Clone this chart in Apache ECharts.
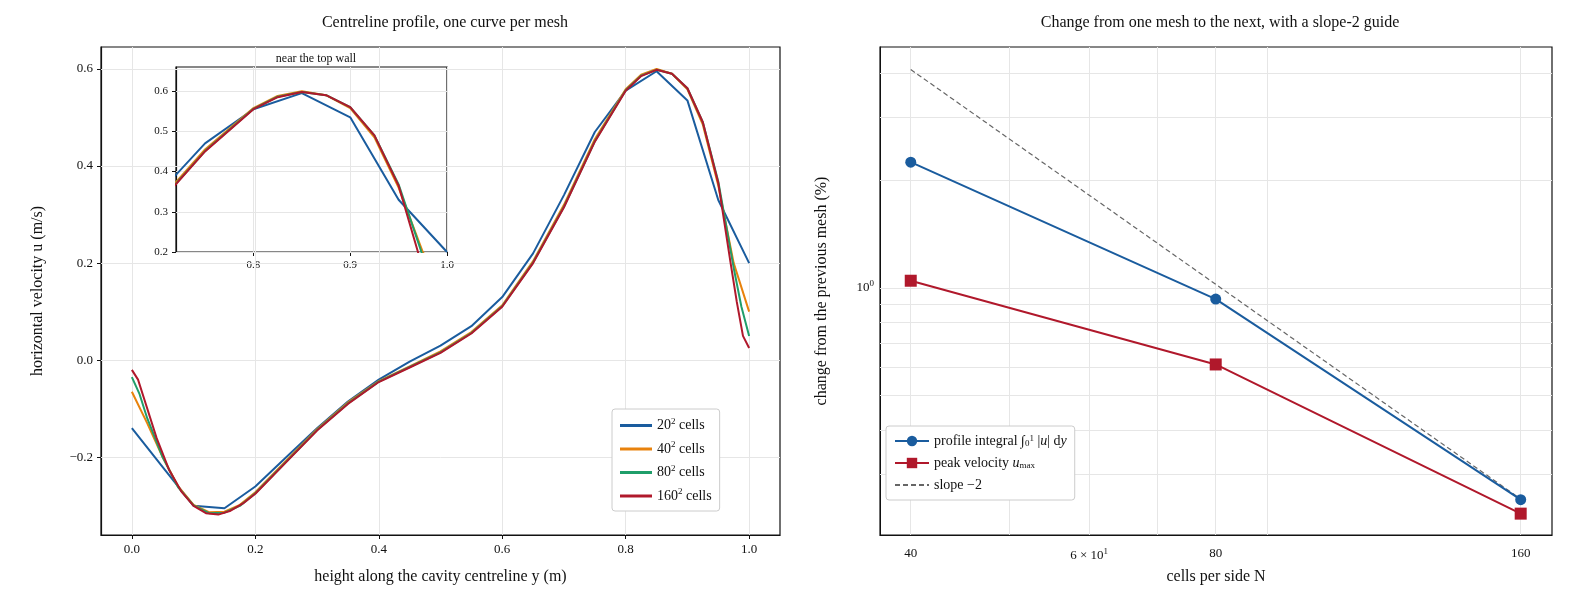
<!DOCTYPE html><html><head><meta charset="utf-8">
<script src="https://cdn.jsdelivr.net/npm/echarts@6/dist/echarts.min.js"></script>
<style>html,body{margin:0;background:#fff}#c{width:1574px;height:615px}</style></head><body><div id="c"></div>
<script>
const y20 = [0,0.05,0.1,0.15,0.2,0.25,0.3,0.35,0.4,0.45,0.5,0.55,0.6,0.65,0.7,0.75,0.8,0.85,0.9,0.95,1.0];
const u20 = [-0.14,-0.22,-0.30,-0.305,-0.26,-0.2,-0.14,-0.085,-0.04,-0.003,0.03,0.07,0.13,0.22,0.34,0.47,0.555,0.595,0.535,0.33,0.2];
const y40 = [0,0.025,0.05,0.075,0.1,0.125,0.15,0.175,0.2,0.25,0.3,0.35,0.4,0.45,0.5,0.55,0.6,0.65,0.7,0.75,0.8,0.825,0.85,0.875,0.9,0.925,0.95,0.975,1.0];
const u40 = [-0.065,-0.13,-0.2,-0.26,-0.298,-0.313,-0.312,-0.298,-0.272,-0.207,-0.142,-0.087,-0.043,-0.013,0.018,0.058,0.113,0.204,0.32,0.455,0.558,0.588,0.6,0.59,0.558,0.485,0.36,0.2,0.1];
const y80 = [0,0.0125,0.025,0.05,0.075,0.1,0.125,0.15,0.175,0.2,0.25,0.3,0.35,0.4,0.45,0.5,0.55,0.6,0.65,0.7,0.75,0.8,0.825,0.85,0.875,0.9,0.925,0.95,0.975,0.9875,1.0];
const u80 = [-0.035,-0.07,-0.12,-0.2,-0.262,-0.299,-0.315,-0.314,-0.3,-0.274,-0.209,-0.144,-0.089,-0.044,-0.014,0.016,0.056,0.111,0.201,0.316,0.451,0.556,0.586,0.598,0.59,0.56,0.49,0.368,0.19,0.11,0.05];
const y160 = [0,0.01,0.02,0.04,0.06,0.08,0.1,0.12,0.14,0.16,0.18,0.2,0.25,0.3,0.35,0.4,0.45,0.5,0.55,0.6,0.65,0.7,0.75,0.8,0.825,0.85,0.875,0.9,0.925,0.95,0.97,0.98,0.99,1.0];
const u160 = [-0.02,-0.04,-0.08,-0.16,-0.225,-0.27,-0.3,-0.315,-0.318,-0.31,-0.295,-0.275,-0.21,-0.145,-0.09,-0.045,-0.015,0.015,0.055,0.11,0.2,0.315,0.45,0.555,0.585,0.598,0.59,0.56,0.49,0.365,0.2,0.12,0.05,0.025];
const N = [40,80,160];
const profileChange = [2.25,0.93,0.255];
const peakChange = [1.047,0.61,0.233];
const slopeRef = [4.09,0.256];
const meshNames = ['20','40','80','160'];
const xTicksMain = [0,0.2,0.4,0.6,0.8,1.0];
const yTicksMain = [-0.2,0,0.2,0.4,0.6];
const xTicksInset = [0.8,0.9,1.0];
const yTicksInset = [0.2,0.3,0.4,0.5,0.6];
const xMinor = [40,50,60,70,80,90,160];
const yMinor = [0.3,0.4,0.5,0.6,0.7,0.8,0.9,1,2,3,4];
const xLabels = {40:'40',60:'{n|6 × 10}{s|1}',80:'80',160:'160'};

const F = 'Liberation Serif';
const C = ['#1a5c9e','#e8820c','#1f9e6a','#b0182b'];
const zip=(a,b)=>a.map((v,i)=>[v,b[i]]);
const fmt=v=>(v<0?'−':'')+Math.abs(v).toFixed(1);
const profiles=[[y20,u20],[y40,u40],[y80,u80],[y160,u160]];
const chart = echarts.init(document.getElementById('c'));
const grids=[{left:101,top:47,width:679,height:488},{left:176,top:67,width:271,height:185},{left:880,top:47,width:672,height:488}];
const GL={lineStyle:{color:'#e6e6e6'}};
const valAx=(g,min,max,ticks,fs,extra)=>Object.assign({gridIndex:g,type:'value',min,max,
  axisLine:{onZero:false,lineStyle:{color:'#111',width:1.2}},
  axisTick:{length:4,customValues:ticks,lineStyle:{color:'#111'}},
  axisLabel:{fontFamily:F,fontSize:fs,color:'#111',customValues:ticks,formatter:fmt},
  splitLine:{show:false}},extra||{});
const series=[];
// gridlines via markLine on the main/inset axes (data values)
const gridML=(xs,ys)=>({silent:true,symbol:'none',animation:false,label:{show:false},lineStyle:{type:'solid',color:'#e6e6e6',width:1},
  data:[...xs.map(v=>({xAxis:v})),...ys.map(v=>({yAxis:v}))]});
profiles.forEach((p,i)=>{
  const s={type:'line',name:meshNames[i],xAxisIndex:0,yAxisIndex:0,data:zip(p[0],p[1]),showSymbol:false,lineStyle:{width:2,color:C[i]},itemStyle:{color:C[i]},z:3+i};
  if(i===0) s.markLine=Object.assign(gridML(xTicksMain,yTicksMain),{z:1});
  series.push(s);
  const t={type:'line',name:'in'+i,xAxisIndex:1,yAxisIndex:1,data:zip(p[0],p[1]),showSymbol:false,clip:true,lineStyle:{width:2,color:C[i]},z:13+i};
  if(i===0) t.markLine=Object.assign(gridML(xTicksInset,yTicksInset),{z:11});
  series.push(t);
});
const rich={n:{fontFamily:F,fontSize:13,color:'#111'},s:{fontFamily:F,fontSize:9,color:'#111',verticalAlign:'top',padding:[0,0,8,0]}};
series.push({type:'line',name:'profile',xAxisIndex:2,yAxisIndex:2,data:zip(N,profileChange),symbol:'circle',symbolSize:11,lineStyle:{width:2,color:C[0]},itemStyle:{color:C[0]},z:5,
  markLine:{silent:true,symbol:'none',animation:false,z:1,data:xMinor.map(v=>({xAxis:v,label:{show:!!xLabels[v],position:'start',distance:12,formatter:xLabels[v]||'',fontFamily:F,fontSize:13,color:'#111',rich}})),lineStyle:{type:'solid',color:'#e6e6e6',width:1}}});
series.push({type:'line',name:'peak',xAxisIndex:2,yAxisIndex:2,data:zip(N,peakChange),symbol:'rect',symbolSize:12,lineStyle:{width:2,color:C[3]},itemStyle:{color:C[3]},z:5,
  markLine:{silent:true,symbol:'none',animation:false,z:1,data:yMinor.map(v=>({yAxis:v,label:{show:v===1,position:'start',distance:6,formatter:'{n|10}{s|0}',rich}})),lineStyle:{type:'solid',color:'#e6e6e6',width:1}}});
series.push({type:'line',name:'slope',xAxisIndex:2,yAxisIndex:2,data:zip([40,160],slopeRef),showSymbol:false,symbol:'none',lineStyle:{width:1.2,type:[5,3],color:'#666'},itemStyle:{color:'#666'},z:4});

chart.setOption({
  animation:false,
  title:[{text:'Centreline profile, one curve per mesh',left:440,top:10,textAlign:'center',textStyle:{fontFamily:F,fontSize:16,fontWeight:'normal',color:'#111'}},
         {text:'Change from one mesh to the next, with a slope-2 guide',left:1215,top:10,textAlign:'center',textStyle:{fontFamily:F,fontSize:16,fontWeight:'normal',color:'#111'}},
         {text:'near the top wall',left:311,top:48,textAlign:'center',textStyle:{fontFamily:F,fontSize:12,fontWeight:'normal',color:'#111'}}],
  grid:grids.map(g=>Object.assign({show:true,borderColor:'#111',borderWidth:1.2,backgroundColor:'#fff'},g)),
  xAxis:[valAx(0,-0.05,1.05,xTicksMain,13,{name:'height along the cavity centreline y (m)',nameLocation:'middle',nameGap:34,nameTextStyle:{fontFamily:F,fontSize:16,color:'#111'}}),
    valAx(1,0.72,1.0,xTicksInset,11),
    {gridIndex:2,type:'log',logBase:10,min:37.3,max:171.8,name:'cells per side N',nameLocation:'middle',nameGap:34,nameTextStyle:{fontFamily:F,fontSize:16,color:'#111'},axisLine:{lineStyle:{color:'#111'}},axisLabel:{show:false},axisTick:{show:false},splitLine:{show:false}}],
  yAxis:[valAx(0,-0.36,0.645,yTicksMain,13,{name:'horizontal velocity u (m/s)',nameLocation:'middle',nameGap:55,nameTextStyle:{fontFamily:F,fontSize:16,color:'#111'}}),
    valAx(1,0.2,0.66,yTicksInset,11),
    {gridIndex:2,type:'log',logBase:10,min:0.203,max:4.73,name:'change from the previous mesh (%)',nameLocation:'middle',nameGap:50,nameTextStyle:{fontFamily:F,fontSize:16,color:'#111'},axisLine:{lineStyle:{color:'#111'}},axisLabel:{show:false},axisTick:{show:false},splitLine:{show:false}}],
  legend:[{data:meshNames,orient:'vertical',left:612,top:409,itemGap:8,itemWidth:32,itemHeight:3,icon:'rect',backgroundColor:'#fff',borderColor:'#ccc',borderWidth:1,borderRadius:3,padding:[8,8],
     formatter:n=>'{a|'+n+'}{s|2}{a| cells}',textStyle:{rich:{a:{fontFamily:F,fontSize:14,color:'#111'},s:{fontFamily:F,fontSize:9,color:'#111',verticalAlign:'top',padding:[0,0,8,0]}}}},
    {data:['profile','peak',{name:'slope',itemStyle:{opacity:0}}],orient:'vertical',left:886,top:426,itemGap:8,itemWidth:34,itemHeight:13,backgroundColor:'#fff',borderColor:'#ccc',borderWidth:1,borderRadius:3,padding:[8,8],
     formatter:n=>n==='profile'?'{a|profile integral ∫}{s|0}{u|1}{a| |}{i|u}{a|| d}{i|y}':n==='peak'?'{a|peak velocity }{i|u}{s|max}':'{a|slope −2}',
     textStyle:{rich:{a:{fontFamily:F,fontSize:14,color:'#111'},i:{fontFamily:F,fontSize:14,fontStyle:'italic',color:'#111'},s:{fontFamily:F,fontSize:9,color:'#111',verticalAlign:'bottom'},u:{fontFamily:F,fontSize:9,color:'#111',verticalAlign:'top'}}}}],
  series
});
</script></body></html>
